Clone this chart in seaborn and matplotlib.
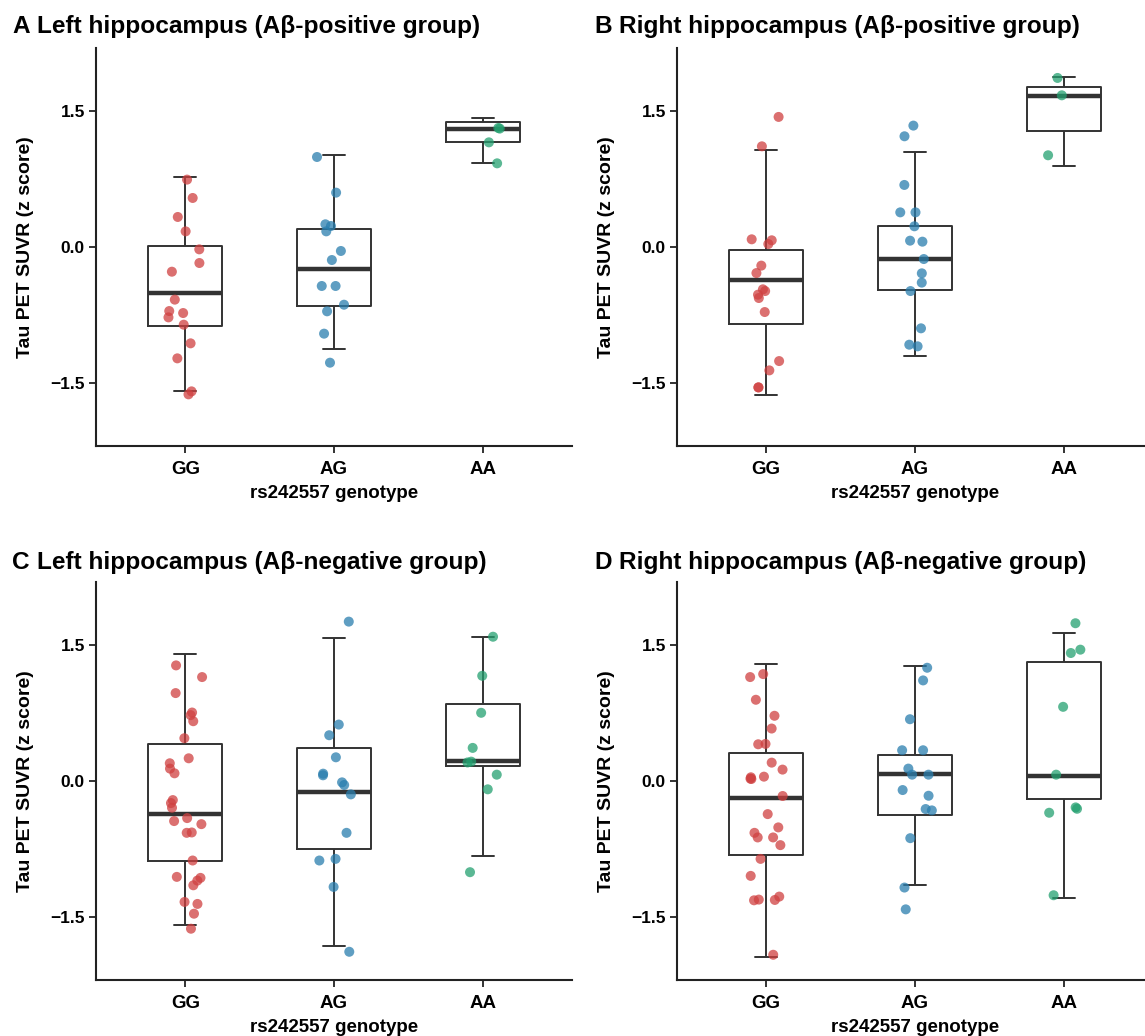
import matplotlib.pyplot as plt
import numpy as np
import pandas as pd
import seaborn as sns

np.random.seed(3)

genotypes = ['GG', 'AG', 'AA']
point_colors = ['#cf4040', '#2a7eae', '#24a070']
y_ticks = [-1.5, 0.0, 1.5]
y_tick_labels = ['\u22121.5', '0.0', '1.5']

panel_labels = ['A', 'B', 'C', 'D']
titles = ['Left hippocampus (A\u03b2-positive group)',
          'Right hippocampus (A\u03b2-positive group)',
          'Left hippocampus (A\u03b2-negative group)',
          'Right hippocampus (A\u03b2-negative group)']

# Panel A - points (z scores) and box summaries [low whisker, Q1, median, Q3, high whisker]
a_gg = [0.745, 0.542, 0.332, 0.173, -0.026, -0.177, -0.273, -0.582, -0.708, -0.730,
        -0.778, -0.859, -1.065, -1.231, -1.596, -1.629]
a_ag = [0.995, 0.601, 0.251, 0.232, 0.173, -0.044, -0.144, -0.431, -0.431, -0.638,
        -0.711, -0.958, -1.279]
a_aa = [1.316, 1.309, 1.157, 0.925]
a_box_gg = [-1.589, -0.877, -0.505, 0.007, 0.778]
a_box_ag = [-1.124, -0.652, -0.247, 0.195, 1.017]
a_box_aa = [0.925, 1.165, 1.309, 1.386, 1.430]

# Panel B
b_gg = [1.438, 1.113, 0.085, 0.074, 0.033, -0.206, -0.288, -0.468, -0.487, -0.527,
        -0.564, -0.719, -1.261, -1.364, -1.552, -1.552]
b_ag = [1.342, 1.224, 0.686, 0.383, 0.383, 0.229, 0.070, 0.059, -0.133, -0.291,
        -0.394, -0.487, -0.899, -1.080, -1.098]
b_aa = [1.869, 1.677, 1.014]
b_box_gg = [-1.637, -0.848, -0.365, -0.033, 1.076]
b_box_ag = [-1.202, -0.472, -0.133, 0.236, 1.047]
b_box_aa = [0.892, 1.283, 1.666, 1.773, 1.884]

# Panel C
c_gg = [1.278, 1.149, 0.972, 0.757, 0.728, 0.661, 0.473, 0.251, 0.196, 0.137,
        0.085, -0.211, -0.244, -0.296, -0.410, -0.443, -0.477, -0.569, -0.573, -0.879,
        -1.060, -1.071, -1.101, -1.153, -1.337, -1.359, -1.467, -1.633]
c_ag = [1.762, 0.624, 0.506, 0.262, 0.081, 0.063, -0.015, -0.044, -0.148, -0.573,
        -0.861, -0.879, -1.171, -1.888]
c_aa = [1.595, 1.163, 0.754, 0.366, 0.214, 0.205, 0.070, -0.092, -1.008]
c_box_gg = [-1.588, -0.879, -0.366, 0.406, 1.404]
c_box_ag = [-1.829, -0.750, -0.122, 0.369, 1.577]
c_box_aa = [-0.831, 0.166, 0.222, 0.853, 1.596]

# Panel D
d_gg = [1.182, 1.149, 0.898, 0.721, 0.580, 0.410, 0.406, 0.203, 0.126, 0.048,
        0.041, 0.026, 0.022, -0.166, -0.366, -0.513, -0.573, -0.624, -0.624, -0.709,
        -0.861, -1.049, -1.278, -1.311, -1.315, -1.319, -1.921]
d_ag = [1.252, 1.112, 0.683, 0.340, 0.340, 0.137, 0.070, 0.070, -0.100, -0.163,
        -0.310, -0.325, -0.632, -1.178, -1.419]
d_aa = [1.744, 1.452, 1.415, 0.820, 0.070, -0.292, -0.307, -0.351, -1.263]
d_box_gg = [-1.943, -0.813, -0.185, 0.307, 1.297]
d_box_ag = [-1.149, -0.373, 0.081, 0.288, 1.274]
d_box_aa = [-1.297, -0.203, 0.052, 1.315, 1.640]


def long_table(gg, ag, aa):
    return pd.DataFrame({
        'genotype': ['GG'] * len(gg) + ['AG'] * len(ag) + ['AA'] * len(aa),
        'value': gg + ag + aa,
    })


panels = [
    (long_table(a_gg, a_ag, a_aa), long_table(a_box_gg, a_box_ag, a_box_aa)),
    (long_table(b_gg, b_ag, b_aa), long_table(b_box_gg, b_box_ag, b_box_aa)),
    (long_table(c_gg, c_ag, c_aa), long_table(c_box_gg, c_box_ag, c_box_aa)),
    (long_table(d_gg, d_ag, d_aa), long_table(d_box_gg, d_box_ag, d_box_aa)),
]

sns.set_theme(style='ticks')
plt.rcParams['font.family'] = ['Liberation Sans', 'DejaVu Sans']
plt.rcParams['axes.unicode_minus'] = True
plt.rcParams['text.color'] = 'black'
plt.rcParams['axes.labelcolor'] = 'black'

W, H = 1145, 1036
fig = plt.figure(figsize=(W / 100, H / 100), dpi=100)

# axes corners in pixels (left, top), plus title anchors
corners = [(96, 48), (677, 48), (96, 582), (677, 582)]
title_xy = [(12, 33), (594, 33), (12, 569), (594, 569)]
ax_w, ax_h = 476, 398
line_col = '#333333'

for i, (pts, box) in enumerate(panels):
    left, top = corners[i]
    ax = fig.add_axes([left / W, 1 - (top + ax_h) / H, ax_w / W, ax_h / H])

    sns.boxplot(data=box, x='genotype', y='value', order=genotypes, width=0.5,
                whis=(0, 100), fill=False, color=line_col, linewidth=1.4,
                showfliers=False, medianprops={'linewidth': 3.2},
                capwidths=0.15, ax=ax)
    sns.stripplot(data=pts, x='genotype', y='value', hue='genotype', order=genotypes,
                  hue_order=genotypes, palette=point_colors, jitter=0.12, size=7.2,
                  alpha=0.75, linewidth=0, legend=False, ax=ax, zorder=3)

    ax.set_xlim(-0.6, 2.6)
    ax.set_ylim(-2.2, 2.2)
    ax.set_yticks(y_ticks, labels=y_tick_labels)
    ax.set_xlabel('rs242557 genotype', fontsize=13.5, fontweight='bold', labelpad=5)
    ax.set_ylabel('Tau PET SUVR (z score)', fontsize=14, fontweight='bold', labelpad=12)
    sns.despine(ax=ax)
    for side in ['left', 'bottom']:
        ax.spines[side].set_linewidth(1.5)
        ax.spines[side].set_color('#222222')
    ax.tick_params(axis='both', length=5, width=1.4, color=line_col, pad=3,
                   labelcolor='black')
    ax.tick_params(axis='x', labelsize=13.5, pad=6)
    ax.tick_params(axis='y', labelsize=12.5)
    for lab in ax.get_xticklabels() + ax.get_yticklabels():
        lab.set_fontweight('bold')

    tx, ty = title_xy[i]
    fig.text(tx / W, 1 - ty / H, panel_labels[i], ha='left', va='baseline',
             fontsize=17.6, fontweight='bold')
    fig.text((tx + 25) / W, 1 - ty / H, titles[i], ha='left', va='baseline',
             fontsize=17.6, fontweight='bold')

fig.savefig('out.png', dpi=100)
